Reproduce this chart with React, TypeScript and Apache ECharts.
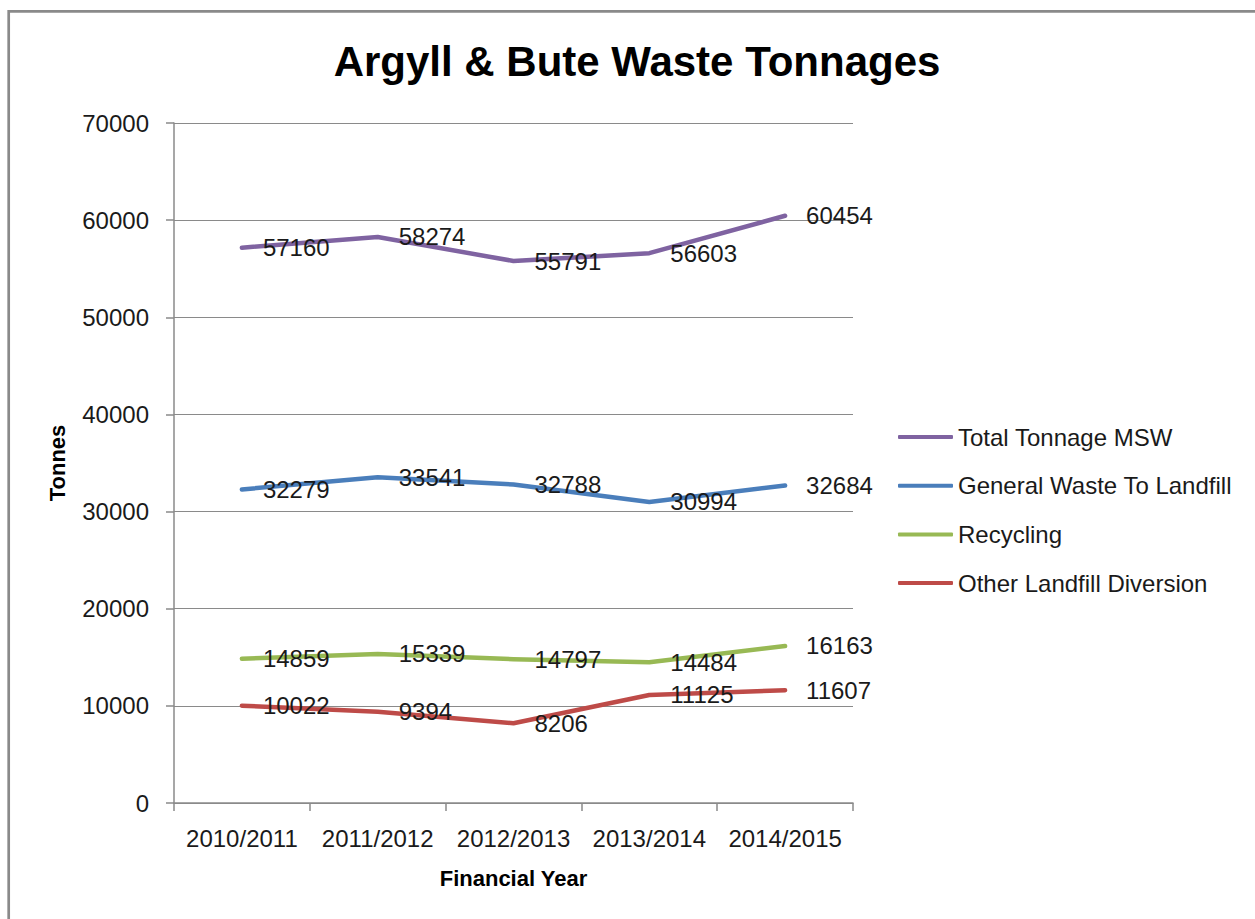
import React, { useEffect, useRef } from "react";
import * as echarts from "echarts";

const categories = ["2010/2011", "2011/2012", "2012/2013", "2013/2014", "2014/2015"];
const totalTonnage = [57160, 58274, 55791, 56603, 60454];
const generalWaste = [32279, 33541, 32788, 30994, 32684];
const recycling = [14859, 15339, 14797, 14484, 16163];
const otherDiversion = [10022, 9394, 8206, 11125, 11607];

const seriesNames = ["Total Tonnage MSW", "General Waste To Landfill", "Recycling", "Other Landfill Diversion"];
const seriesColors = ["#7F63A1", "#4A7EBB", "#98B954", "#BE4B48"];
const seriesData = [totalTonnage, generalWaste, recycling, otherDiversion];

const FONT = "'Liberation Sans', Arial, sans-serif";

export default function App() {
  const ref = useRef<HTMLDivElement>(null);
  useEffect(() => {
    if (!ref.current) return;
    const chart = echarts.init(ref.current, undefined, { renderer: "svg" });
    chart.setOption({
      animation: false,
      backgroundColor: "#ffffff",
      textStyle: { fontFamily: FONT },
      title: {
        text: "Argyll & Bute Waste Tonnages",
        left: 632,
        top: 35,
        textAlign: "center",
        textStyle: { fontFamily: FONT, fontSize: 42, fontWeight: "bold", color: "#000000" },
      },
      graphic: [
        {
          type: "rect",
          shape: { x: 8.7, y: 11.3, width: 2000, height: 2000 },
          style: { fill: "none", stroke: "#8a8a8a", lineWidth: 2.7 },
          silent: true,
        },
      ],
      legend: {
        orient: "vertical",
        left: 893,
        top: 420,
        itemWidth: 55,
        itemHeight: 4,
        itemGap: 24.7,
        icon: "roundRect",
        textStyle: { fontFamily: FONT, fontSize: 24, color: "#1a1a1a", lineHeight: 24 },
        data: seriesNames,
      },
      grid: { left: 174, right: 402, top: 123, bottom: 116, containLabel: false },
      xAxis: {
        type: "category",
        data: categories,
        boundaryGap: true,
        name: "Financial Year",
        nameLocation: "middle",
        nameGap: 64,
        nameTextStyle: { fontFamily: FONT, fontSize: 22, fontWeight: "bold", color: "#000000" },
        axisLine: { show: true, lineStyle: { color: "#8a8a8a", width: 1.5 } },
        axisTick: { show: true, alignWithLabel: false, length: 8, lineStyle: { color: "#8a8a8a", width: 1.5 } },
        axisLabel: { margin: 23, fontFamily: FONT, fontSize: 24, color: "#1a1a1a", interval: 0 },
        splitLine: { show: false },
      },
      yAxis: {
        type: "value",
        min: 0,
        max: 70000,
        interval: 10000,
        name: "Tonnes",
        nameLocation: "middle",
        nameGap: 106,
        nameTextStyle: { fontFamily: FONT, fontSize: 22, fontWeight: "bold", color: "#000000" },
        axisLine: { show: true, lineStyle: { color: "#8a8a8a", width: 1.5 } },
        axisTick: { show: true, length: 8, lineStyle: { color: "#8a8a8a", width: 1.5 } },
        axisLabel: {
          margin: 25,
          fontFamily: FONT,
          fontSize: 24,
          color: "#1a1a1a",
          formatter: (v: number) => String(v),
        },
        splitLine: { show: true, lineStyle: { color: "#8a8a8a", width: 1.2 } },
      },
      series: seriesNames.map((name, i) => ({
        name,
        type: "line",
        data: seriesData[i],
        color: seriesColors[i],
        symbol: "circle",
        symbolSize: 2,
        showSymbol: true,
        lineStyle: { width: 4.5, color: seriesColors[i], cap: "round", join: "round" },
        itemStyle: { color: seriesColors[i] },
        label: {
          show: true,
          position: "right",
          distance: 20,
          fontFamily: FONT,
          fontSize: 24,
          color: "#1a1a1a",
        },
        emphasis: { disabled: true },
      })),
    });
    return () => chart.dispose();
  }, []);
  return (
    <div
      ref={ref}
      style={{ position: "fixed", left: 0, top: 0, width: 1255, height: 919 }}
    />
  );
}
